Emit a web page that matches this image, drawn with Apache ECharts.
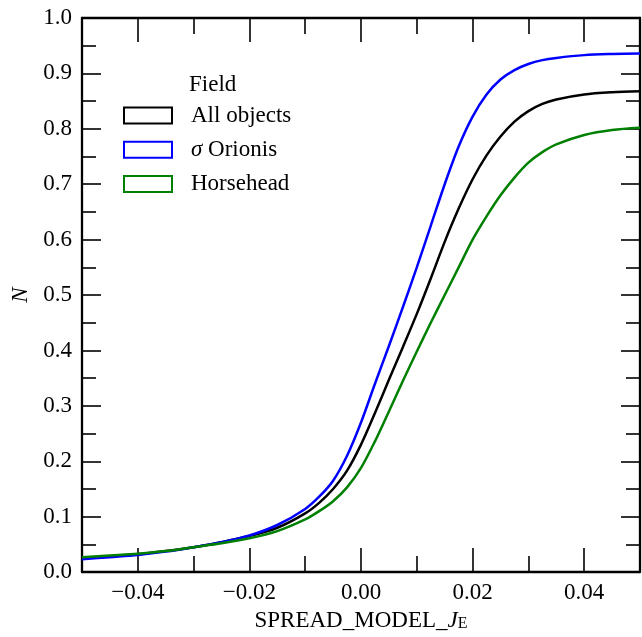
<!DOCTYPE html>
<html>
<head>
<meta charset="utf-8">
<script src="https://cdn.jsdelivr.net/npm/echarts@6/dist/echarts.min.js"></script>
<style>
  html, body { margin: 0; padding: 0; background: #fff; }
  #chart { width: 642px; height: 637px; }
</style>
</head>
<body>
<div id="chart"></div>
<script>
const xValues = [-0.05, -0.045, -0.04, -0.035, -0.03, -0.025, -0.02, -0.015, -0.01, -0.0075, -0.005, -0.0025,
  0, 0.0025, 0.005, 0.0075, 0.01, 0.0125, 0.015, 0.0175, 0.02, 0.0225, 0.025, 0.0275, 0.03, 0.0325, 0.035, 0.04, 0.045, 0.05];
const allObjects = [0.025, 0.028, 0.032, 0.038, 0.045, 0.054, 0.065, 0.080, 0.106, 0.125, 0.150, 0.183,
  0.230, 0.287, 0.347, 0.406, 0.466, 0.530, 0.596, 0.656, 0.709, 0.752, 0.786, 0.813, 0.832, 0.845, 0.853, 0.862, 0.866, 0.868];
const sigmaOrionis = [0.023, 0.027, 0.031, 0.037, 0.045, 0.054, 0.066, 0.085, 0.114, 0.136, 0.165, 0.210,
  0.270, 0.340, 0.408, 0.478, 0.550, 0.625, 0.700, 0.768, 0.822, 0.862, 0.889, 0.906, 0.917, 0.924, 0.928, 0.933, 0.935, 0.936];
const horsehead = [0.027, 0.030, 0.033, 0.038, 0.045, 0.052, 0.061, 0.074, 0.095, 0.110, 0.128, 0.153,
  0.188, 0.236, 0.290, 0.345, 0.398, 0.450, 0.500, 0.550, 0.600, 0.642, 0.680, 0.712, 0.739, 0.758, 0.772, 0.789, 0.798, 0.802];
const seriesNames = ['All objects', 'σ Orionis', 'Horsehead'];
const xMajor = [-0.04, -0.02, 0, 0.02, 0.04];
const xMinor = [-0.03, -0.01, 0.01, 0.03];

const FONT = '"Liberation Serif", "DejaVu Serif", serif';
const colors = ['#000000', '#0000ff', '#008000'];

let myChart = echarts.init(document.getElementById('chart'));

function toPairs(arr) {
  return xValues.map((x, i) => [x, arr[i]]);
}

// one x axis (top or bottom), only major or minor ticks
function xAxisOf(position, ticks, len, withLabels) {
  let ax = {
    type: 'value', min: -0.05, max: 0.05, position: position,
    axisLine: { show: withLabels !== undefined, onZero: false, lineStyle: { color: '#000', width: 2.3 } },
    axisTick: { show: true, inside: true, length: len, customValues: ticks, lineStyle: { color: '#000', width: 1.6 } },
    axisLabel: { show: false },
    splitLine: { show: false }
  };
  if (withLabels) {
    ax.axisLabel = {
      show: true, customValues: ticks, margin: 9, color: '#000', fontFamily: FONT, fontSize: 23,
      formatter: (v) => v.toFixed(2).replace('-', '\u2212')
    };
    ax.name = 'SPREAD_MODEL_{i|J}{s|E}';
    ax.nameLocation = 'middle';
    ax.nameGap = 34;
    ax.nameTextStyle = {
      color: '#000', fontFamily: FONT, fontSize: 23,
      rich: {
        i: { fontFamily: FONT, fontSize: 23, fontStyle: 'italic', color: '#000' },
        s: { fontFamily: FONT, fontSize: 16, color: '#000', verticalAlign: 'bottom', lineHeight: 10 }
      }
    };
  }
  return ax;
}

function yAxisOf(position, withLabels) {
  let ax = {
    type: 'value', min: 0, max: 1, interval: 0.1, position: position,
    axisLine: { show: true, onZero: false, lineStyle: { color: '#000', width: 2.3 } },
    axisTick: { show: true, inside: true, length: 19, lineStyle: { color: '#000', width: 1.6 } },
    minorTick: { show: true, splitNumber: 2, length: 14, lineStyle: { color: '#000', width: 1.6 } },
    axisLabel: { show: false },
    splitLine: { show: false }
  };
  if (withLabels) {
    ax.axisLabel = {
      show: true, margin: 10, color: '#000', fontFamily: FONT, fontSize: 23,
      formatter: (v) => v.toFixed(1)
    };
    ax.name = 'N';
    ax.nameLocation = 'middle';
    ax.nameGap = 50;
    ax.nameTextStyle = { color: '#000', fontFamily: FONT, fontSize: 23, fontStyle: 'italic' };
  }
  return ax;
}

let option = {
  animation: false,
  backgroundColor: '#fff',
  title: {
    text: 'Field', left: 189, top: 73, padding: 0,
    textStyle: { color: '#000', fontFamily: FONT, fontSize: 23, fontWeight: 'normal' }
  },
  legend: {
    orient: 'vertical', left: 123, top: 104, padding: 0,
    icon: 'rect', itemWidth: 48, itemHeight: 16, itemGap: 11.2,
    selectedMode: false,
    data: seriesNames.map((n, i) => ({
      name: n,
      itemStyle: { color: 'rgba(0,0,0,0)', borderColor: colors[i], borderWidth: 2 }
    })),
    formatter: (name) => name === 'σ Orionis' ? '{i|σ} Orionis' : name,
    textStyle: {
      color: '#000', fontFamily: FONT, fontSize: 23, lineHeight: 16, padding: [0, 0, 0, 14],
      rich: { i: { fontFamily: FONT, fontSize: 23, fontStyle: 'italic', color: '#000', lineHeight: 16 } }
    }
  },
  grid: { left: 82, right: 2, top: 18, bottom: 60, containLabel: false },
  xAxis: [
    xAxisOf('bottom', xMajor, 24, true),
    xAxisOf('bottom', xMinor, 16),
    xAxisOf('top', xMajor, 24, false),
    xAxisOf('top', xMinor, 16)
  ],
  yAxis: [yAxisOf('left', true), yAxisOf('right', false)],
  series: [allObjects, sigmaOrionis, horsehead].map((arr, i) => ({
    name: seriesNames[i],
    type: 'line',
    xAxisIndex: 0, yAxisIndex: 0,
    data: toPairs(arr),
    smooth: 0.3,
    showSymbol: false,
    lineStyle: { color: colors[i], width: 2.5 },
    itemStyle: { color: colors[i] }
  }))
};
myChart.setOption(option);
</script>
</body>
</html>
